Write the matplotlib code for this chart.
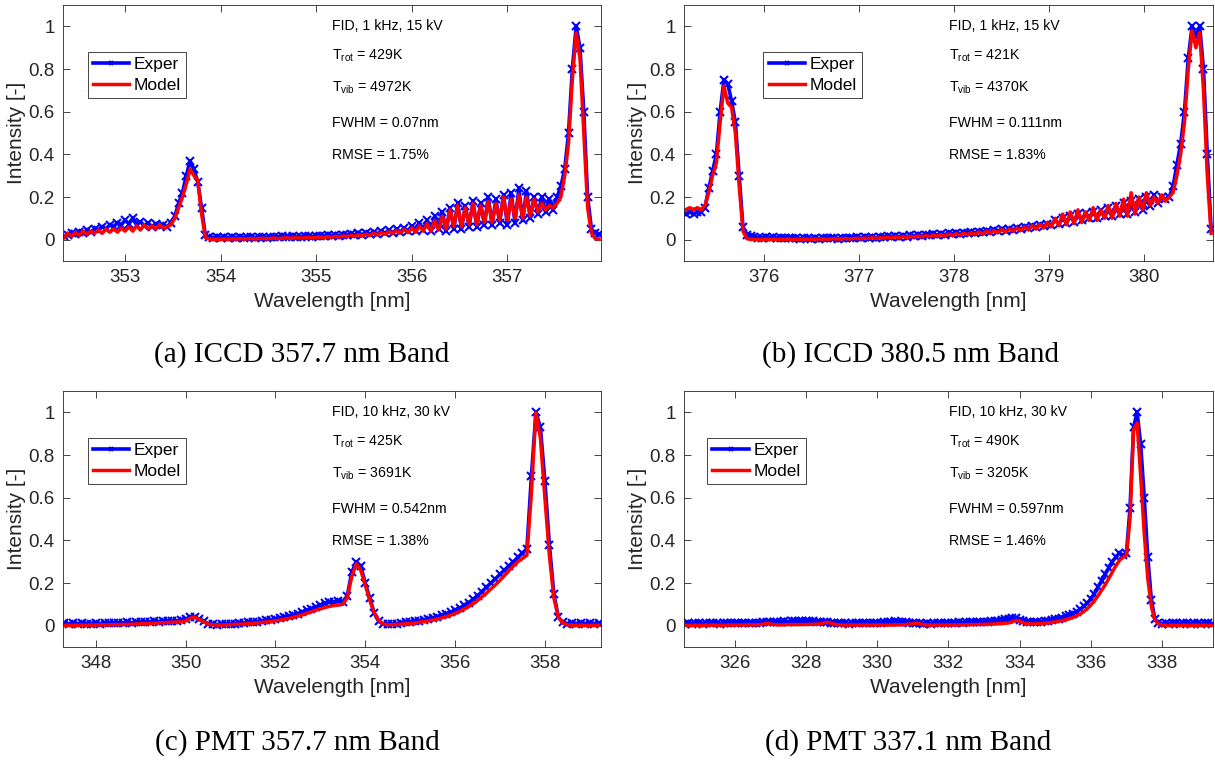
import matplotlib.pyplot as plt
import numpy as np

plt.rcParams['font.family'] = ['Liberation Sans', 'DejaVu Sans']
plt.rcParams['mathtext.fontset'] = 'custom'
plt.rcParams['mathtext.rm'] = 'Liberation Sans'
plt.rcParams['mathtext.it'] = 'Liberation Sans:italic'

# ---- (a) ICCD 357.7 nm band, wavelength grid 352.36 .. 357.96 nm
a_wl_range = (352.36, 357.96)
a_model = [0.01, 0.03, 0.015, 0.035, 0.02, 0.04, 0.025, 0.04, 0.03, 0.045, 0.03, 0.05, 0.035, 0.05, 0.035, 0.055,
           0.04, 0.06, 0.04, 0.065, 0.045, 0.07, 0.05, 0.065, 0.05, 0.07, 0.055, 0.06, 0.07,
           0.1, 0.15, 0.2, 0.26, 0.33,
           0.3, 0.28, 0.12,
           0.01, 0.003, 0.002, 0.002,
           0.002, 0.003, 0.002, 0.004, 0.003, 0.005, 0.003, 0.004, 0.006, 0.003, 0.005, 0.007, 0.004, 0.006, 0.008,
           0.005, 0.007, 0.009, 0.006, 0.008, 0.01, 0.007, 0.009, 0.011, 0.008,
           0.01, 0.013, 0.009, 0.014, 0.011, 0.016, 0.012, 0.018, 0.014, 0.02, 0.016, 0.023, 0.018, 0.026, 0.02,
           0.03, 0.022, 0.034, 0.025, 0.038, 0.028, 0.043, 0.03, 0.048, 0.033,
           0.055, 0.035, 0.065, 0.04, 0.075, 0.04, 0.09, 0.045, 0.11, 0.05,
           0.14, 0.06, 0.16, 0.06, 0.15, 0.07, 0.17, 0.07, 0.16, 0.08,
           0.18, 0.08, 0.17, 0.09, 0.2, 0.09, 0.19, 0.1, 0.21, 0.1,
           0.2, 0.11, 0.19, 0.13, 0.17, 0.14, 0.16, 0.15, 0.17,
           0.2, 0.3, 0.45, 0.75, 0.97, 0.85, 0.5, 0.15, 0.03, 0.005, 0.003]
a_exper = [0.015, 0.02, 0.03, 0.025, 0.035, 0.03, 0.045, 0.035, 0.05, 0.045, 0.06, 0.05, 0.07, 0.06, 0.08, 0.07,
           0.09, 0.075, 0.1, 0.07, 0.085, 0.065, 0.08, 0.06, 0.075, 0.065, 0.07, 0.06, 0.08,
           0.11, 0.17, 0.22, 0.3, 0.37,
           0.33, 0.27, 0.15,
           0.02, 0.012, 0.01, 0.011,
           0.01, 0.012, 0.009, 0.011, 0.01, 0.013, 0.009, 0.012, 0.011, 0.01, 0.013, 0.012, 0.01, 0.014, 0.012,
           0.011, 0.015, 0.013, 0.012, 0.016, 0.014, 0.013, 0.017, 0.015, 0.014,
           0.016, 0.018, 0.015, 0.02, 0.017, 0.022, 0.019, 0.024, 0.02, 0.027, 0.022, 0.03, 0.024, 0.033, 0.026,
           0.036, 0.028, 0.04, 0.03, 0.045, 0.032, 0.05, 0.035, 0.055, 0.04,
           0.065, 0.04, 0.08, 0.045, 0.09, 0.04, 0.11, 0.05, 0.13, 0.04,
           0.15, 0.05, 0.17, 0.05, 0.16, 0.06, 0.18, 0.06, 0.17, 0.07,
           0.2, 0.07, 0.19, 0.08, 0.21, 0.07, 0.22, 0.08, 0.24, 0.09,
           0.23, 0.1, 0.2, 0.12, 0.2, 0.13, 0.19, 0.14, 0.2,
           0.25, 0.33, 0.5, 0.8, 1.0, 0.9, 0.6, 0.2, 0.05, 0.03, 0.025]
a_info = ['FID, 1 kHz, 15 kV', '429K', '4972K', '0.07nm', '1.75%']

# ---- (b) ICCD 380.5 nm band, grid 375.18 .. 380.70 nm
b_wl_range = (375.18, 380.70)
b_model = [0.14, 0.15, 0.14, 0.15, 0.14,
           0.16, 0.22, 0.3, 0.36, 0.55,
           0.72, 0.64, 0.62, 0.5, 0.25,
           0.04, 0.005, 0.002, 0.001, 0.001,
           0.001, 0.002, 0.001, 0.002, 0.001, 0.002, 0.001, 0.003, 0.001, 0.002, 0.001, 0.003, 0.002,
           0.001, 0.003, 0.002, 0.004, 0.002, 0.003, 0.005, 0.002, 0.004, 0.006, 0.003, 0.005,
           0.007, 0.004, 0.008, 0.005, 0.01, 0.006, 0.009, 0.007, 0.012, 0.008, 0.014, 0.009, 0.015,
           0.01, 0.016, 0.012, 0.018, 0.013, 0.02, 0.014, 0.022, 0.016, 0.024, 0.018, 0.026,
           0.02, 0.028, 0.022, 0.03, 0.024, 0.033, 0.026, 0.036, 0.028, 0.04, 0.03, 0.043, 0.033,
           0.047, 0.036, 0.05, 0.04, 0.055, 0.043, 0.06, 0.046, 0.066, 0.05, 0.072, 0.055,
           0.08, 0.06, 0.1, 0.065, 0.12, 0.07, 0.13, 0.075, 0.14, 0.08,
           0.13, 0.09, 0.15, 0.09, 0.14, 0.1, 0.16, 0.1, 0.17, 0.11,
           0.19, 0.11, 0.22, 0.12, 0.2, 0.14, 0.22, 0.16, 0.2, 0.17,
           0.21, 0.18, 0.2,
           0.22, 0.3, 0.4, 0.55, 0.8, 0.98, 0.9, 0.97, 0.7, 0.3, 0.03]
b_exper = [0.12, 0.13, 0.12, 0.13, 0.13,
           0.15, 0.24, 0.32, 0.4, 0.6,
           0.75, 0.73, 0.65, 0.55, 0.3,
           0.06, 0.02, 0.015, 0.012, 0.01,
           0.01, 0.012, 0.009, 0.011, 0.008, 0.01, 0.007, 0.009, 0.006, 0.008, 0.005, 0.007, 0.006,
           0.004, 0.007, 0.005, 0.008, 0.006, 0.009, 0.007, 0.005, 0.008, 0.01, 0.006, 0.009,
           0.011, 0.008, 0.012, 0.01, 0.014, 0.009, 0.013, 0.011, 0.016, 0.012, 0.017, 0.013, 0.018,
           0.014, 0.02, 0.016, 0.022, 0.018, 0.024, 0.02, 0.026, 0.022, 0.028, 0.024, 0.03,
           0.026, 0.03, 0.028, 0.033, 0.03, 0.035, 0.032, 0.038, 0.034, 0.04, 0.037, 0.044, 0.04,
           0.048, 0.042, 0.052, 0.046, 0.056, 0.05, 0.06, 0.054, 0.065, 0.058, 0.07, 0.062,
           0.075, 0.07, 0.09, 0.075, 0.1, 0.08, 0.11, 0.085, 0.12, 0.09,
           0.125, 0.1, 0.13, 0.1, 0.14, 0.11, 0.15, 0.11, 0.16, 0.12,
           0.17, 0.12, 0.18, 0.13, 0.19, 0.14, 0.2, 0.16, 0.21, 0.17,
           0.2, 0.19, 0.2,
           0.25, 0.35, 0.45, 0.6, 0.85, 1.0, 0.95, 1.0, 0.8, 0.4, 0.05]
b_info = ['FID, 1 kHz, 15 kV', '421K', '4370K', '0.111nm', '1.83%']

# ---- (c) PMT 357.7 nm band, grid 347.3 .. 359.2 nm
c_wl_range = (347.3, 359.2)
c_model = [0.002, 0.002, 0.002, 0.002, 0.003, 0.003, 0.003, 0.003, 0.004, 0.004, 0.004, 0.005, 0.005, 0.006,
           0.006, 0.007, 0.008, 0.009, 0.01, 0.011, 0.012, 0.013,
           0.014, 0.015, 0.016, 0.017, 0.018, 0.022, 0.035, 0.04, 0.03, 0.018,
           0.008, 0.004, 0.003, 0.003, 0.004, 0.005, 0.006, 0.007, 0.008, 0.01, 0.011, 0.013, 0.015, 0.017, 0.02,
           0.023, 0.026, 0.03, 0.034, 0.039, 0.045, 0.051, 0.058, 0.065, 0.072, 0.079, 0.085, 0.09, 0.094, 0.097,
           0.1, 0.13, 0.23, 0.29, 0.26, 0.19, 0.12, 0.06, 0.025, 0.008, 0.004, 0.005, 0.006, 0.007, 0.009,
           0.011, 0.013, 0.016, 0.019, 0.022, 0.026, 0.031, 0.036, 0.042, 0.049, 0.057, 0.066, 0.077, 0.089,
           0.102, 0.118, 0.135, 0.153, 0.172, 0.192,
           0.212, 0.235, 0.258, 0.28, 0.3, 0.315, 0.33, 0.62, 1.0, 0.88,
           0.6, 0.33, 0.13, 0.04, 0.012, 0.004, 0.002, 0.002, 0.002, 0.002, 0.002, 0.002, 0.002]
c_exper = [0.012, 0.008, 0.011, 0.009, 0.012, 0.01, 0.009, 0.012, 0.01, 0.013, 0.011, 0.012, 0.014, 0.012,
           0.015, 0.013, 0.016, 0.015, 0.018, 0.017, 0.02, 0.019,
           0.022, 0.02, 0.024, 0.022, 0.025, 0.03, 0.04, 0.042, 0.03, 0.02,
           0.01, 0.006, 0.005, 0.006, 0.007, 0.008, 0.01, 0.011, 0.013, 0.015, 0.017, 0.019, 0.022, 0.025, 0.028,
           0.03, 0.035, 0.04, 0.045, 0.05, 0.057, 0.064, 0.072, 0.08, 0.088, 0.096, 0.105, 0.11, 0.112, 0.115,
           0.11, 0.14, 0.25, 0.3, 0.28, 0.2, 0.13, 0.06, 0.02, 0.008, 0.006, 0.008, 0.01, 0.012, 0.015,
           0.017, 0.02, 0.023, 0.027, 0.031, 0.036, 0.042, 0.048, 0.055, 0.063, 0.072, 0.083, 0.095, 0.108,
           0.123, 0.14, 0.16, 0.18, 0.2, 0.22,
           0.24, 0.26, 0.28, 0.3, 0.32, 0.34, 0.36, 0.7, 1.0, 0.93,
           0.68, 0.38, 0.15, 0.04, 0.015, 0.01, 0.012, 0.01, 0.011, 0.01, 0.012, 0.01, 0.011]
c_info = ['FID, 10 kHz, 30 kV', '425K', '3691K', '0.542nm', '1.38%']

# ---- (d) PMT 337.1 nm band, grid 324.6 .. 339.4 nm
d_wl_range = (324.6, 339.4)
d_model = [0.002, 0.002, 0.002, 0.002, 0.002, 0.002, 0.003, 0.002, 0.003, 0.002, 0.003, 0.002, 0.003, 0.003,
           0.003, 0.003, 0.003, 0.003, 0.004, 0.004, 0.004, 0.005, 0.007,
           0.011, 0.008, 0.005,
           0.004, 0.004, 0.004, 0.005, 0.005, 0.005, 0.005, 0.005, 0.005, 0.006, 0.006, 0.007,
           0.009, 0.013, 0.016, 0.012, 0.007, 0.004,
           0.003, 0.003, 0.003, 0.003, 0.003, 0.003, 0.003, 0.003, 0.003, 0.003, 0.003, 0.003, 0.003, 0.003,
           0.003, 0.003, 0.004, 0.004, 0.005, 0.007,
           0.01, 0.012, 0.009, 0.005,
           0.003, 0.003, 0.003, 0.003, 0.003, 0.003, 0.003, 0.003, 0.004, 0.004, 0.004, 0.004, 0.005, 0.005,
           0.005, 0.006, 0.006, 0.007, 0.007, 0.008, 0.009, 0.01, 0.011,
           0.013, 0.018, 0.025, 0.022, 0.013, 0.009, 0.008,
           0.008, 0.009, 0.01, 0.012, 0.013, 0.015, 0.018, 0.021, 0.024, 0.028, 0.033, 0.039, 0.046, 0.055,
           0.066, 0.08, 0.097, 0.117, 0.14, 0.165, 0.19, 0.22, 0.25, 0.28, 0.305, 0.32,
           0.33, 0.5, 0.92, 0.95, 0.7, 0.43, 0.22, 0.09, 0.025, 0.008, 0.003,
           0.002, 0.002, 0.002, 0.002, 0.002, 0.002, 0.002, 0.002, 0.002, 0.002, 0.002, 0.002, 0.002, 0.002]
d_exper = [0.01, 0.012, 0.01, 0.011, 0.013, 0.01, 0.012, 0.011, 0.013, 0.012, 0.01, 0.013, 0.011, 0.012,
           0.013, 0.011, 0.012, 0.014, 0.012, 0.013, 0.014, 0.013, 0.015,
           0.016, 0.015, 0.017,
           0.016, 0.018, 0.02, 0.019, 0.021, 0.022, 0.02, 0.023, 0.022, 0.021, 0.02, 0.019,
           0.018, 0.016, 0.015, 0.014, 0.013, 0.012,
           0.011, 0.012, 0.01, 0.011, 0.012, 0.011, 0.013, 0.012, 0.011, 0.013, 0.014, 0.013, 0.015, 0.016,
           0.018, 0.02, 0.019, 0.017, 0.015, 0.013,
           0.012, 0.011, 0.012, 0.01,
           0.011, 0.01, 0.012, 0.011, 0.012, 0.013, 0.012, 0.014, 0.013, 0.015, 0.014, 0.016, 0.015, 0.017,
           0.016, 0.018, 0.017, 0.019, 0.02, 0.022, 0.024, 0.027, 0.03,
           0.033, 0.036, 0.035, 0.028, 0.02, 0.016, 0.015,
           0.016, 0.017, 0.019, 0.021, 0.023, 0.026, 0.029, 0.033, 0.038, 0.044, 0.05, 0.057, 0.066, 0.077,
           0.09, 0.106, 0.125, 0.15, 0.18, 0.21, 0.24, 0.27, 0.3, 0.32, 0.34, 0.33,
           0.34, 0.55, 0.93, 1.0, 0.85, 0.6, 0.32, 0.12, 0.03, 0.012, 0.01,
           0.011, 0.01, 0.012, 0.011, 0.01, 0.012, 0.011, 0.01, 0.012, 0.011, 0.01, 0.012, 0.011, 0.01]
d_info = ['FID, 10 kHz, 30 kV', '490K', '3205K', '0.597nm', '1.46%']

captions = ['(a) ICCD 357.7 nm Band', '(b) ICCD 380.5 nm Band',
            '(c) PMT 357.7 nm Band', '(d) PMT 337.1 nm Band']

AX_COL = '#262626'


def draw(ax, wl_range, exper, model, info, xlim, xticks, leg_x):
    wl = np.linspace(wl_range[0], wl_range[1], len(model))
    ax.plot(wl, exper, color='blue', lw=2.6, marker='x', ms=6, mew=1.5, label='Exper')
    ax.plot(wl, model, color='red', lw=2.5, label='Model')
    ax.set_xlim(*xlim)
    ax.set_ylim(-0.1, 1.1)
    ax.set_xticks(xticks)
    ax.set_yticks([0, 0.2, 0.4, 0.6, 0.8, 1])
    ax.set_yticklabels(['0', '0.2', '0.4', '0.6', '0.8', '1'])
    ax.tick_params(direction='in', top=True, right=True, length=5, width=0.6,
                   labelsize=13.5, colors=AX_COL, pad=6)
    for s in ax.spines.values():
        s.set_color(AX_COL)
        s.set_linewidth(0.6)
    ax.set_xlabel('Wavelength [nm]', fontsize=15, color=AX_COL, labelpad=4)
    ax.set_ylabel('Intensity [-]', fontsize=15, color=AX_COL, labelpad=2)
    lines = [info[0],
             r'T$_{\rm rot}$ = ' + info[1],
             r'T$_{\rm vib}$ = ' + info[2],
             'FWHM = ' + info[3],
             'RMSE = ' + info[4]]
    for txt, y in zip(lines, [1.0, 0.86, 0.71, 0.545, 0.395]):
        ax.text(0.5, y, txt, transform=ax.get_yaxis_transform(), fontsize=10.2,
                va='center', ha='left')
    leg = ax.legend(loc='upper left', bbox_to_anchor=(leg_x, 0.818), fontsize=12.5,
                    fancybox=False, framealpha=1, edgecolor=AX_COL, borderaxespad=0,
                    handlelength=2.1, handletextpad=0.25, borderpad=0.3, labelspacing=0.35,
                    markerscale=0.6)
    leg.get_frame().set_linewidth(0.6)


fig = plt.figure(figsize=(12.15, 7.61), dpi=100)
W, H = 1215, 761
L1, R1, L2, R2 = 63, 601, 684, 1213
T1, B1, T2, B2 = 5, 261, 391, 647
ax_a = fig.add_axes([L1 / W, 1 - B1 / H, (R1 - L1) / W, (B1 - T1) / H])
ax_b = fig.add_axes([L2 / W, 1 - B1 / H, (R2 - L2) / W, (B1 - T1) / H])
ax_c = fig.add_axes([L1 / W, 1 - B2 / H, (R1 - L1) / W, (B2 - T2) / H])
ax_d = fig.add_axes([L2 / W, 1 - B2 / H, (R2 - L2) / W, (B2 - T2) / H])

draw(ax_a, a_wl_range, a_exper, a_model, a_info, (352.35, 357.98), [353, 354, 355, 356, 357], 0.046)
draw(ax_b, b_wl_range, b_exper, b_model, b_info, (375.16, 380.72), [376, 377, 378, 379, 380], 0.15)
draw(ax_c, c_wl_range, c_exper, c_model, c_info, (347.27, 359.25), [348, 350, 352, 354, 356, 358], 0.046)
draw(ax_d, d_wl_range, d_exper, d_model, d_info, (324.58, 339.43), [326, 328, 330, 332, 334, 336, 338], 0.044)

for txt, (x, y) in zip(captions, [(302, 355), (910, 355), (297, 743), (908, 743)]):
    fig.text(x / W, 1 - y / H, txt, ha='center', va='center', fontsize=21,
             family=['Liberation Serif', 'DejaVu Serif'])

fig.savefig('out.png', dpi=100)
